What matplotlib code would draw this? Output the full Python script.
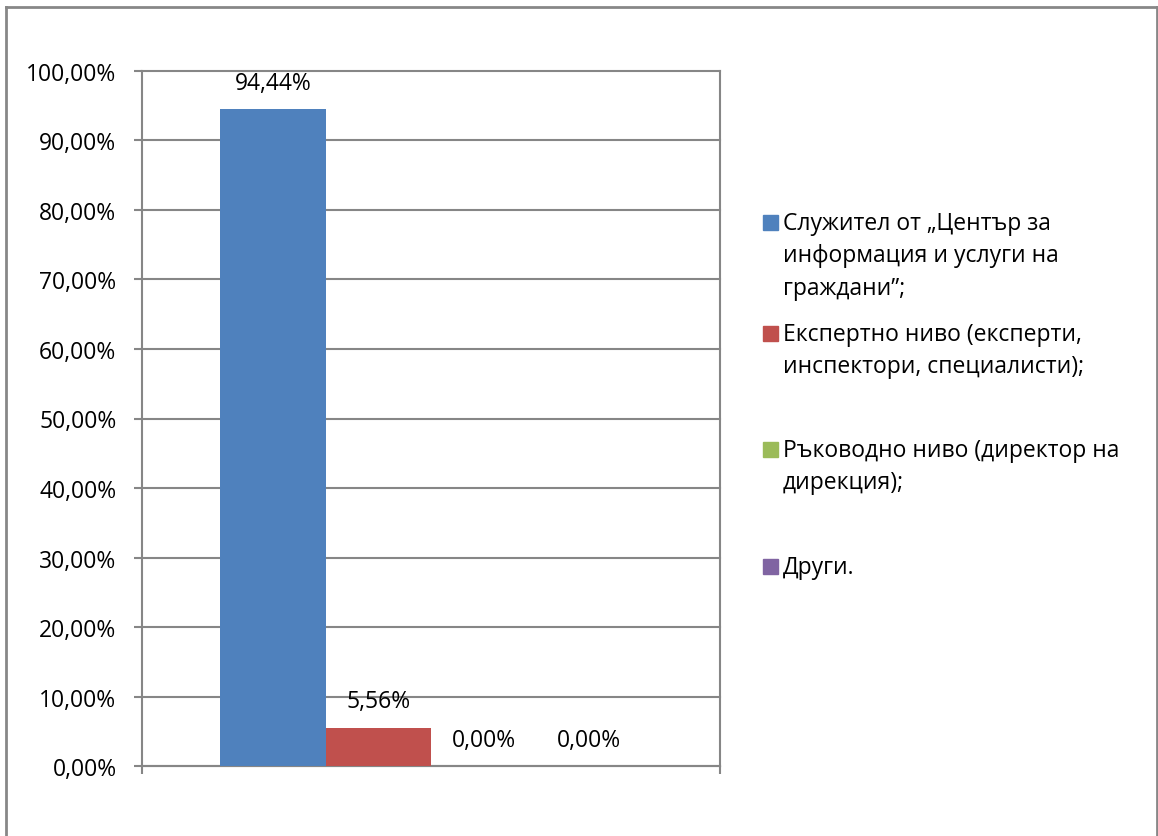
import matplotlib
matplotlib.use("Agg")
import matplotlib.pyplot as plt
from matplotlib.patches import Rectangle
from matplotlib.lines import Line2D

plt.rcParams['font.family'] = ['Open Sans', 'DejaVu Sans']

categories = ["Служител от „Център за\nинформация и услуги на\nграждани”;",
              "Експертно ниво (експерти,\nинспектори, специалисти);",
              "Ръководно ниво (директор на\nдирекция);",
              "Други."]
values = [94.44, 5.56, 0.00, 0.00]
value_labels = ["94,44%", "5,56%", "0,00%", "0,00%"]
colors = ["#4F81BD", "#C0504D", "#9BBB59", "#8064A2"]
yticks = [0, 10, 20, 30, 40, 50, 60, 70, 80, 90, 100]
ytick_labels = ["0,00%", "10,00%", "20,00%", "30,00%", "40,00%", "50,00%",
                "60,00%", "70,00%", "80,00%", "90,00%", "100,00%"]

W, H = 1158, 837
FS = 16.5
fig = plt.figure(figsize=(W / 100, H / 100), dpi=100)
AL, AR, AT, AB = 141.5, 720, 71.7, 767.3
ax = fig.add_axes([AL / W, (H - AB) / H, (AR - AL) / W, (AB - AT) / H])

grid_c = "#868686"
span = AR - AL
bw = 105.5 / span
start = 78.5 / span
for i, (v, c, lab) in enumerate(zip(values, colors, value_labels)):
    x = start + bw * (i + 0.5)
    ax.bar(x, v, width=bw, color=c, zorder=3)
    ax.annotate(lab, (x, v), xytext=(0, 19), textcoords="offset points",
                ha="center", va="center", fontsize=FS, color="black", zorder=4)

ax.set_xlim(0, 1)
ax.set_ylim(0, 100)
ax.set_yticks(yticks)
ax.set_yticklabels(ytick_labels, fontsize=FS)
ax.set_xticks([0, 1])
ax.set_xticklabels([])
ax.yaxis.grid(True, color=grid_c, linewidth=1.5, zorder=0)
for gl in ax.get_ygridlines():
    gl.set_clip_on(False)
ax.tick_params(axis="y", length=6, width=1.5, color=grid_c, pad=12)
ax.tick_params(axis="x", length=6, width=1.5, color=grid_c, direction="out")
for s in ["top", "right"]:
    ax.spines[s].set_visible(False)
for s in ["left", "bottom"]:
    ax.spines[s].set_color(grid_c)
    ax.spines[s].set_linewidth(1.5)
ax.axvline(1, color=grid_c, linewidth=1.5, zorder=1, clip_on=False)

# legend (manual layout)
entry_tops = [222, 333, 449, 566]
for lab, c, yt in zip(categories, colors, entry_tops):
    fig.patches.append(Rectangle((763 / W, (H - yt - 9) / H), 15 / W, 15 / H,
                                 transform=fig.transFigure, color=c))
    fig.text(783 / W, (H - yt + 10) / H, lab, fontsize=FS, va="top", ha="left",
             linespacing=1.47)

# outer border
bc = "#878787"
fig.add_artist(Line2D([5.5 / W, 5.5 / W], [0, (H - 7.5) / H], color=bc, lw=2, transform=fig.transFigure))
fig.add_artist(Line2D([5.5 / W, 1156.5 / W], [(H - 7.5) / H, (H - 7.5) / H], color=bc, lw=2, transform=fig.transFigure))
fig.add_artist(Line2D([1156.5 / W, 1156.5 / W], [0, (H - 7.5) / H], color=bc, lw=2, transform=fig.transFigure))

fig.savefig("out.png", dpi=100)
